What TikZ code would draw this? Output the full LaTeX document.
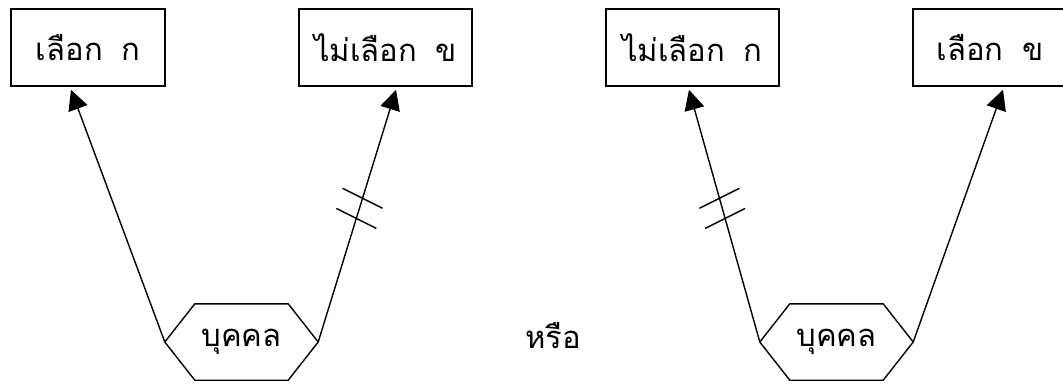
\documentclass[tikz,border=0pt]{standalone}
\usepackage{fontspec}
\newfontfamily\thaifont[Script=Thai]{Loma}
\usetikzlibrary{arrows.meta,calc}

\tikzset{
  label font/.style={font=\thaifont\fontsize{31}{36}\selectfont},
  choice/.style={draw, line width=1.6pt, inner sep=0pt, minimum height=77pt, label font},
  entity/.style={inner sep=0pt, minimum width=153pt, minimum height=76pt, label font},
  outline/.style={line width=1.4pt, line join=miter},
  link/.style={line width=1.4pt, -{Triangle[length=20pt,width=20pt]}},
  tick/.style={line width=1.4pt}
}
\newcommand{\wsp}{\hspace{0.6em}}

\begin{document}
\begin{tikzpicture}[x=1pt, y=-1pt]
  \useasboundingbox (0,0) rectangle (1063,383);

  % ---- first alternative ----
  \node[choice, minimum width=154pt] (a1) at (88,47.5)    {เลือก\wsp ก};
  \node[choice, minimum width=173pt] (a2) at (385.5,47.5) {ไม่เลือก\wsp ข};
  \node[entity] (p1) at (241.5,342) {บุคคล};

  \draw[outline] (p1.west) -- ([xshift=30pt]p1.north west) -- ([xshift=-30pt]p1.north east)
    -- (p1.east) -- ([xshift=-30pt]p1.south east) -- ([xshift=30pt]p1.south west) -- cycle;

  \coordinate (t1) at ($(a1.south)+(-17,3)$);
  \coordinate (t2) at ($(a2.south)+(10.5,3)$);
  \draw[link] (p1.west) -- (t1);
  \draw[link] (p1.east) -- (t2);

  % two strokes across the link that leads to "not chosen"
  \foreach \s in {0.49,0.57}
    \draw[tick] ($(p1.east)!\s!(t2)+(-20,-10)$) -- ($(p1.east)!\s!(t2)+(20,10)$);

  % ---- separator word ----
  \node[label font] (or) at (553,336) {หรือ};

  % ---- second alternative ----
  \node[choice, minimum width=173pt] (b1) at (692.5,47.5) {ไม่เลือก\wsp ก};
  \node[choice, minimum width=154pt] (b2) at (990,47.5)   {เลือก\wsp ข};
  \node[entity] (p2) at (836.5,342) {บุคคล};

  \draw[outline] (p2.west) -- ([xshift=30pt]p2.north west) -- ([xshift=-30pt]p2.north east)
    -- (p2.east) -- ([xshift=-30pt]p2.south east) -- ([xshift=30pt]p2.south west) -- cycle;

  \coordinate (u1) at ($(b1.south)+(-3.5,3)$);
  \coordinate (u2) at ($(b2.south)+(13,3)$);
  \draw[link] (p2.west) -- (u1);
  \draw[link] (p2.east) -- (u2);

  \foreach \s in {0.49,0.57}
    \draw[tick] ($(p2.west)!\s!(u1)+(-20,10)$) -- ($(p2.west)!\s!(u1)+(20,-10)$);
\end{tikzpicture}
\end{document}
